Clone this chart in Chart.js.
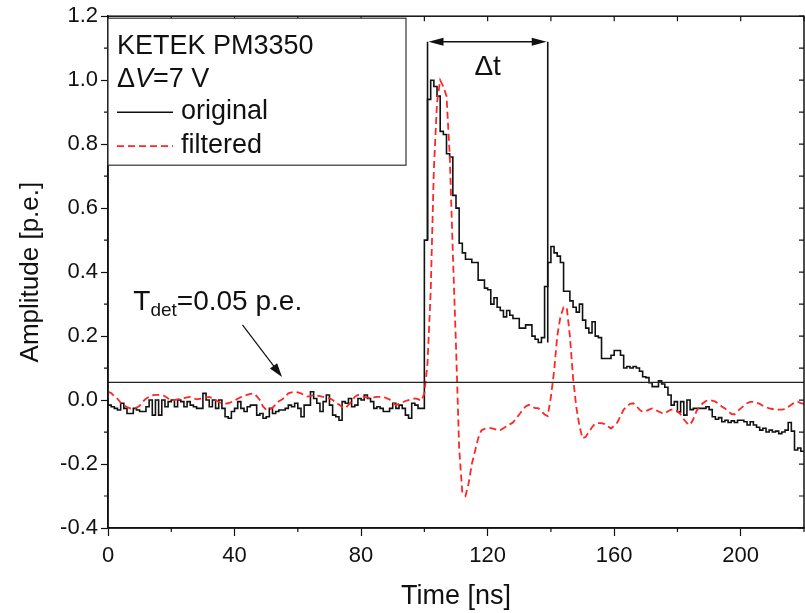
<!DOCTYPE html>
<html>
<head>
<meta charset="utf-8">
<script src="https://cdn.jsdelivr.net/npm/chart.js@4.4.0/dist/chart.umd.min.js"></script>
<style>
  html, body { margin: 0; padding: 0; background: #fff; }
  #wrap { width: 805px; height: 613px; }
</style>
</head>
<body>
<div id="wrap"><canvas id="myChart" width="805" height="613"></canvas></div>
<script>
// sample grid, 1 ns per bin
var times = Array.from({length: 221}, function(_, i) { return i; });

// original waveform (step plot)
var original = [
  0.005, -0.016, -0.021, -0.026, -0.031, -0.010, -0.026, -0.042, -0.042, -0.026,
  -0.031, -0.036, -0.036, -0.021, 0.0, -0.047, 0.0, -0.047, 0.0, -0.021,
  -0.005, 0.0, -0.021, 0.0, -0.005, -0.021, -0.005, -0.016, -0.021, -0.026,
  -0.026, 0.021, 0.0, -0.021, 0.0, -0.026, 0.0, -0.026, -0.052, -0.057,
  -0.036, -0.026, -0.005, -0.026, -0.036, -0.021, -0.016, -0.016, -0.047, -0.042,
  -0.057, -0.052, -0.026, -0.042, -0.036, -0.031, -0.031, -0.026, -0.016, -0.021,
  -0.010, -0.026, -0.052, -0.016, -0.016, 0.026, 0.005, -0.010, -0.036, -0.005,
  0.016, -0.016, -0.047, -0.052, -0.063, -0.005, -0.010, 0.005, -0.021, -0.016,
  0.005, 0.0, 0.016, 0.005, -0.005, -0.026, -0.021, -0.026, -0.036, -0.036,
  -0.026, -0.010, -0.026, -0.016, -0.026, -0.047, -0.057, -0.010, -0.016, -0.026,
  -0.026, 0.50, 0.94, 1.0, 0.98, 0.95, 0.84, 0.83, 0.77, 0.76,
  0.64, 0.60, 0.49, 0.46, 0.44, 0.44, 0.43, 0.43, 0.375, 0.375,
  0.35, 0.345, 0.30, 0.32, 0.29, 0.28, 0.26, 0.28, 0.265, 0.255,
  0.255, 0.225, 0.225, 0.235, 0.235, 0.20, 0.19, 0.18, 0.195, 0.355,
  0.43, 0.48, 0.46, 0.45, 0.43, 0.34, 0.34, 0.31, 0.29, 0.275,
  0.30, 0.25, 0.225, 0.21, 0.245, 0.20, 0.195, 0.13, 0.13, 0.13,
  0.14, 0.155, 0.155, 0.14, 0.10, 0.105, 0.10, 0.105, 0.10, 0.09,
  0.073, 0.07, 0.054, 0.042, 0.042, 0.06, 0.05, 0.04, 0.016, -0.016,
  -0.005, -0.037, -0.005, -0.047, 0.0, -0.03, -0.026, -0.026, -0.026, -0.026,
  -0.021, -0.03, -0.052, -0.06, -0.055, -0.068, -0.063, -0.07, -0.065, -0.07,
  -0.063, -0.063, -0.068, -0.078, -0.068, -0.078, -0.085, -0.094, -0.088, -0.10,
  -0.094, -0.10, -0.097, -0.105, -0.10, -0.094, -0.07, -0.097, -0.156, -0.15,
  -0.16
];

// filtered waveform (dashed red)
var filtered = [
  0.026, 0.022, 0.012, 0.004, -0.008, -0.016, -0.022, -0.026, -0.026, -0.024,
  -0.018, -0.005, 0.004, 0.010, 0.015, 0.016, 0.016, 0.016, 0.012, 0.005,
  0.0, 0.0, 0.002, 0.004, 0.006, 0.008, 0.010, 0.006, 0.002, 0.004,
  0.006, 0.008, 0.010, 0.006, 0.0, -0.006, -0.010, -0.011, -0.010, -0.006,
  -0.001, 0.004, 0.009, 0.013, 0.016, 0.019, 0.021, 0.012, 0.0, -0.020,
  -0.030, -0.030, -0.024, -0.014, -0.004, 0.002, 0.010, 0.021, 0.024, 0.026,
  0.024, 0.021, 0.016, 0.011, 0.012, 0.016, 0.014, 0.012, 0.010, 0.008,
  0.005, 0.0, -0.008, -0.014, -0.022, -0.026, -0.015, -0.005, 0.010, 0.016,
  0.014, 0.010, 0.008, 0.005, 0.008, 0.010, 0.010, 0.010, 0.006, 0.002,
  -0.008, -0.016, -0.012, -0.008, -0.003, 0.0, 0.003, 0.005, 0.003, -0.002,
  0.02, 0.115, 0.34, 0.72, 0.93, 1.0, 0.98, 0.95, 0.77, 0.46,
  0.17, -0.15, -0.29, -0.30, -0.26, -0.20, -0.16, -0.12, -0.095, -0.09,
  -0.088, -0.088, -0.09, -0.093, -0.094, -0.088, -0.082, -0.076, -0.07, -0.058,
  -0.045, -0.032, -0.02, -0.015, -0.02, -0.025, -0.025, -0.035, -0.045, -0.05,
  0.01, 0.09, 0.20, 0.26, 0.29, 0.29, 0.20, 0.07, -0.02, -0.08,
  -0.12, -0.115, -0.10, -0.085, -0.073, -0.072, -0.072, -0.075, -0.082, -0.089,
  -0.08, -0.07, -0.05, -0.03, -0.02, -0.012, -0.01, -0.018, -0.03, -0.037,
  -0.035, -0.03, -0.026, -0.03, -0.036, -0.04, -0.042, -0.035, -0.03, -0.03,
  -0.035, -0.045, -0.06, -0.072, -0.078, -0.06, -0.035, -0.02, -0.01, -0.003,
  0.0, -0.002, -0.005, -0.012, -0.02, -0.026, -0.035, -0.043, -0.045, -0.035,
  -0.026, -0.018, -0.01, -0.006, -0.006, -0.008, -0.012, -0.018, -0.022, -0.026,
  -0.028, -0.03, -0.03, -0.03, -0.028, -0.022, -0.015, -0.008, -0.005, -0.01,
  -0.012
];

var xTicks = [0, 40, 80, 120, 160, 200];
var xMinor = [20, 60, 100, 140, 180, 220];
var yTicks = [-0.4, -0.2, 0.0, 0.2, 0.4, 0.6, 0.8, 1.0, 1.2];
var yMinor = [-0.3, -0.1, 0.1, 0.3, 0.5, 0.7, 0.9, 1.1];

var threshold = 0.055;
var dtStart = 101, dtEnd = 139, dtLevel = 1.12;
var dtLowStart = 0.5, dtLowEnd = 0.18;
var arrowFrom = [42.5, 0.235], arrowTo = [55, 0.072];

var FONT = '"Liberation Sans", Arial, sans-serif';
var RED = '#ff2626';

function pts(arr) {
  return arr.map(function(v, i) { return {x: times[i], y: v}; });
}

function arrowHead(ctx, x, y, ang, len, w) {
  ctx.beginPath();
  ctx.moveTo(x, y);
  ctx.lineTo(x - len * Math.cos(ang) + w * Math.sin(ang), y - len * Math.sin(ang) - w * Math.cos(ang));
  ctx.lineTo(x - len * Math.cos(ang) - w * Math.sin(ang), y - len * Math.sin(ang) + w * Math.cos(ang));
  ctx.closePath();
  ctx.fill();
}

var decor = {
  id: 'decor',
  afterDatasetsDraw: function(chart) {
    var ctx = chart.ctx, xs = chart.scales.x, ys = chart.scales.y, a = chart.chartArea;
    ctx.save();
    ctx.strokeStyle = '#111';
    ctx.fillStyle = '#111';
    ctx.lineWidth = 1.2;

    // minor ticks outside, mirrored ticks inside on top / right
    ctx.beginPath();
    yMinor.forEach(function(v) {
      var y = ys.getPixelForValue(v);
      ctx.moveTo(a.left, y); ctx.lineTo(a.left - 4, y);
    });
    yTicks.concat(yMinor).forEach(function(v) {
      var y = ys.getPixelForValue(v);
      ctx.moveTo(a.right, y); ctx.lineTo(a.right - 5, y);
    });
    xMinor.forEach(function(v) {
      var x = xs.getPixelForValue(v);
      ctx.moveTo(x, a.bottom); ctx.lineTo(x, a.bottom + 4);
    });
    xTicks.concat(xMinor).forEach(function(v) {
      var x = xs.getPixelForValue(v);
      ctx.moveTo(x, a.top); ctx.lineTo(x, a.top + 5);
    });
    ctx.stroke();

    // frame
    ctx.lineWidth = 1.5;
    ctx.strokeRect(a.left, a.top, a.right - a.left, a.bottom - a.top);

    // delta t bracket
    var x1 = xs.getPixelForValue(dtStart), x2 = xs.getPixelForValue(dtEnd);
    var yl = ys.getPixelForValue(dtLevel);
    ctx.lineWidth = 1.6;
    ctx.beginPath();
    ctx.moveTo(x1, ys.getPixelForValue(dtLowStart)); ctx.lineTo(x1, yl);
    ctx.moveTo(x2, ys.getPixelForValue(dtLowEnd)); ctx.lineTo(x2, yl);
    ctx.moveTo(x1 + 10, yl); ctx.lineTo(x2 - 10, yl);
    ctx.stroke();
    arrowHead(ctx, x1 + 1, yl, Math.PI, 15, 4);
    arrowHead(ctx, x2 - 1, yl, 0, 15, 4);
    ctx.font = '28px ' + FONT;
    ctx.textAlign = 'center';
    ctx.textBaseline = 'middle';
    ctx.fillText('\u0394t', (x1 + x2) / 2, yl + 25);

    // threshold arrow
    var ax = xs.getPixelForValue(arrowFrom[0]), ay = ys.getPixelForValue(arrowFrom[1]);
    var bx = xs.getPixelForValue(arrowTo[0]), by = ys.getPixelForValue(arrowTo[1]);
    var ang = Math.atan2(by - ay, bx - ax);
    ctx.lineWidth = 1.2;
    ctx.beginPath();
    ctx.moveTo(ax, ay);
    ctx.lineTo(bx - 12 * Math.cos(ang), by - 12 * Math.sin(ang));
    ctx.stroke();
    arrowHead(ctx, bx, by, ang, 14, 4.5);

    // T_det label
    ctx.textAlign = 'left';
    ctx.textBaseline = 'alphabetic';
    var tx = xs.getPixelForValue(8), ty = ys.getPixelForValue(0.3125) + 10;
    ctx.font = '28px ' + FONT;
    ctx.fillText('T', tx, ty);
    tx += ctx.measureText('T').width;
    ctx.font = '19px ' + FONT;
    ctx.fillText('det', tx, ty + 6);
    tx += ctx.measureText('det').width;
    ctx.font = '28px ' + FONT;
    ctx.fillText('=0.05 p.e.', tx, ty);

    // legend box
    var lx = a.left, ly = a.top + 2, lw = 298, lh = 147;
    ctx.fillStyle = '#fff';
    ctx.fillRect(lx, ly, lw, lh);
    ctx.strokeStyle = '#333';
    ctx.lineWidth = 1.2;
    ctx.strokeRect(lx, ly, lw, lh);
    ctx.fillStyle = '#111';
    ctx.textBaseline = 'middle';
    ctx.font = '27px ' + FONT;
    var px = lx + 9;
    ctx.fillText('KETEK PM3350', px, ly + 28);
    ctx.fillText('\u0394', px, ly + 61);
    var w = ctx.measureText('\u0394').width;
    ctx.font = 'italic 27px ' + FONT;
    ctx.fillText('V', px + w, ly + 61);
    w += ctx.measureText('V').width;
    ctx.font = '27px ' + FONT;
    ctx.fillText('=7 V', px + w, ly + 61);
    ctx.fillText('original', px + 64, ly + 93);
    ctx.fillText('filtered', px + 64, ly + 127);
    ctx.strokeStyle = '#111';
    ctx.lineWidth = 1.5;
    ctx.beginPath();
    ctx.moveTo(px, ly + 94); ctx.lineTo(px + 56, ly + 94);
    ctx.stroke();
    ctx.strokeStyle = RED;
    ctx.lineWidth = 1.8;
    ctx.setLineDash([7, 4]);
    ctx.beginPath();
    ctx.moveTo(px, ly + 128); ctx.lineTo(px + 56, ly + 128);
    ctx.stroke();
    ctx.restore();
  }
};

var ctx = document.getElementById('myChart').getContext('2d');
var chart = new Chart(ctx, {
  type: 'line',
  data: {
    datasets: [{
      label: 'threshold',
      data: [{x: 0, y: threshold}, {x: 220, y: threshold}],
      borderColor: '#222',
      borderWidth: 1.2,
      pointRadius: 0
    }, {
      label: 'filtered',
      data: pts(filtered),
      borderColor: RED,
      borderWidth: 1.8,
      borderDash: [7, 4],
      pointRadius: 0,
      tension: 0
    }, {
      label: 'original',
      data: pts(original),
      borderColor: '#111',
      borderWidth: 1.6,
      stepped: 'after',
      pointRadius: 0
    }]
  },
  options: {
    responsive: false,
    animation: false,
    layout: { padding: { top: 16, right: 1, left: 0, bottom: 0 } },
    plugins: { legend: { display: false }, tooltip: { enabled: false } },
    scales: {
      x: {
        type: 'linear', min: 0, max: 220,
        afterBuildTicks: function(s) { s.ticks = xTicks.map(function(v) { return {value: v}; }); },
        afterFit: function(s) { s.height = 85; },
        grid: { drawOnChartArea: false, tickLength: 8, tickColor: '#111', tickWidth: 1.2 },
        border: { display: true, color: '#111', width: 1.5 },
        ticks: { color: '#111', font: { family: FONT, size: 22 }, padding: 7, maxRotation: 0 },
        title: { display: true, text: 'Time [ns]', color: '#111', font: { family: FONT, size: 27 }, padding: { top: 0, bottom: 0 } }
      },
      y: {
        type: 'linear', min: -0.4, max: 1.2,
        afterBuildTicks: function(s) { s.ticks = yTicks.map(function(v) { return {value: v}; }); },
        afterFit: function(s) { s.width = 108; },
        grid: { drawOnChartArea: false, tickLength: 7, tickColor: '#111', tickWidth: 1.2 },
        border: { display: true, color: '#111', width: 1.5 },
        ticks: { color: '#111', font: { family: FONT, size: 22 }, padding: 3,
          callback: function(v) { return v.toFixed(1); } },
        title: { display: true, text: 'Amplitude [p.e.]', color: '#111', font: { family: FONT, size: 26 }, padding: { top: 15, bottom: 0 } }
      }
    }
  },
  plugins: [decor]
});
</script>
</body>
</html>
